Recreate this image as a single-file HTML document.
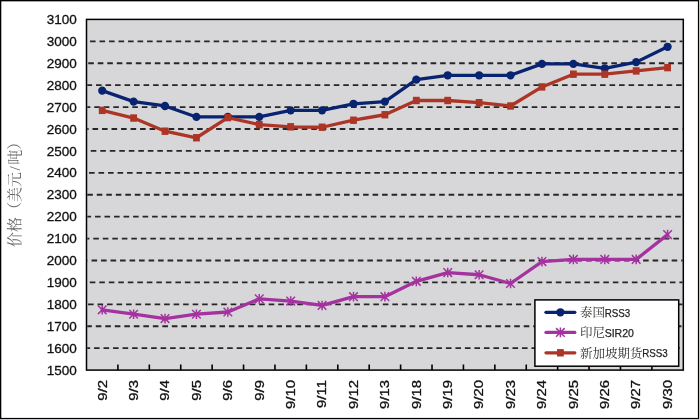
<!DOCTYPE html><html><head><meta charset="utf-8"><style>html,body{margin:0;padding:0;background:#fff;}svg{display:block;}text{font-family:"Liberation Sans","Noto Serif CJK SC",sans-serif;}</style></head><body>
<svg width="700" height="420" viewBox="0 0 700 420">
<rect x="0" y="0" width="700" height="420" fill="#fff"/>
<rect x="699" y="0" width="1" height="420" fill="#c9c9c6"/>
<rect x="0" y="419" width="700" height="1" fill="#c4c4ca"/>
<rect x="0" y="0" width="699" height="1.35" fill="#000"/>
<rect x="0" y="0" width="1.3" height="419" fill="#000"/>
<rect x="697.9" y="0" width="1.1" height="419" fill="#000"/>
<rect x="0" y="417.9" width="699" height="1.1" fill="#000"/>
<rect x="86.5" y="19.4" width="596.80" height="350.70" fill="#d7d7da"/>
<line x1="87.30" y1="41.32" x2="682.50" y2="41.32" stroke="#262626" stroke-width="1.8" stroke-dasharray="5.6 3.91" stroke-dashoffset="6.81"/>
<line x1="87.30" y1="63.24" x2="682.50" y2="63.24" stroke="#262626" stroke-width="1.8" stroke-dasharray="5.6 3.91" stroke-dashoffset="8.56"/>
<line x1="87.30" y1="85.16" x2="682.50" y2="85.16" stroke="#262626" stroke-width="1.8" stroke-dasharray="5.6 3.91" stroke-dashoffset="0.80"/>
<line x1="87.30" y1="107.08" x2="682.50" y2="107.08" stroke="#262626" stroke-width="1.8" stroke-dasharray="5.6 3.91" stroke-dashoffset="2.55"/>
<line x1="87.30" y1="128.99" x2="682.50" y2="128.99" stroke="#262626" stroke-width="1.8" stroke-dasharray="5.6 3.91" stroke-dashoffset="4.30"/>
<line x1="87.30" y1="150.91" x2="682.50" y2="150.91" stroke="#262626" stroke-width="1.8" stroke-dasharray="5.6 3.91" stroke-dashoffset="6.05"/>
<line x1="87.30" y1="172.83" x2="682.50" y2="172.83" stroke="#262626" stroke-width="1.8" stroke-dasharray="5.6 3.91" stroke-dashoffset="7.80"/>
<line x1="87.30" y1="194.75" x2="682.50" y2="194.75" stroke="#262626" stroke-width="1.8" stroke-dasharray="5.6 3.91" stroke-dashoffset="0.04"/>
<line x1="87.30" y1="216.67" x2="682.50" y2="216.67" stroke="#262626" stroke-width="1.8" stroke-dasharray="5.6 3.91" stroke-dashoffset="1.79"/>
<line x1="87.30" y1="238.59" x2="682.50" y2="238.59" stroke="#262626" stroke-width="1.8" stroke-dasharray="5.6 3.91" stroke-dashoffset="3.54"/>
<line x1="87.30" y1="260.51" x2="682.50" y2="260.51" stroke="#262626" stroke-width="1.8" stroke-dasharray="5.6 3.91" stroke-dashoffset="5.29"/>
<line x1="87.30" y1="282.43" x2="682.50" y2="282.43" stroke="#262626" stroke-width="1.8" stroke-dasharray="5.6 3.91" stroke-dashoffset="7.04"/>
<line x1="87.30" y1="304.34" x2="682.50" y2="304.34" stroke="#262626" stroke-width="1.8" stroke-dasharray="5.6 3.91" stroke-dashoffset="8.79"/>
<line x1="87.30" y1="326.26" x2="682.50" y2="326.26" stroke="#262626" stroke-width="1.8" stroke-dasharray="5.6 3.91" stroke-dashoffset="1.03"/>
<line x1="87.30" y1="348.18" x2="682.50" y2="348.18" stroke="#262626" stroke-width="1.8" stroke-dasharray="5.6 3.91" stroke-dashoffset="2.78"/>
<line x1="117.91" y1="370.10" x2="117.91" y2="364.50" stroke="#000" stroke-width="1.6"/>
<line x1="149.32" y1="370.10" x2="149.32" y2="364.50" stroke="#000" stroke-width="1.6"/>
<line x1="180.73" y1="370.10" x2="180.73" y2="364.50" stroke="#000" stroke-width="1.6"/>
<line x1="212.14" y1="370.10" x2="212.14" y2="364.50" stroke="#000" stroke-width="1.6"/>
<line x1="243.55" y1="370.10" x2="243.55" y2="364.50" stroke="#000" stroke-width="1.6"/>
<line x1="274.96" y1="370.10" x2="274.96" y2="364.50" stroke="#000" stroke-width="1.6"/>
<line x1="306.37" y1="370.10" x2="306.37" y2="364.50" stroke="#000" stroke-width="1.6"/>
<line x1="337.78" y1="370.10" x2="337.78" y2="364.50" stroke="#000" stroke-width="1.6"/>
<line x1="369.19" y1="370.10" x2="369.19" y2="364.50" stroke="#000" stroke-width="1.6"/>
<line x1="400.61" y1="370.10" x2="400.61" y2="364.50" stroke="#000" stroke-width="1.6"/>
<line x1="432.02" y1="370.10" x2="432.02" y2="364.50" stroke="#000" stroke-width="1.6"/>
<line x1="463.43" y1="370.10" x2="463.43" y2="364.50" stroke="#000" stroke-width="1.6"/>
<line x1="494.84" y1="370.10" x2="494.84" y2="364.50" stroke="#000" stroke-width="1.6"/>
<line x1="526.25" y1="370.10" x2="526.25" y2="364.50" stroke="#000" stroke-width="1.6"/>
<line x1="557.66" y1="370.10" x2="557.66" y2="364.50" stroke="#000" stroke-width="1.6"/>
<line x1="589.07" y1="370.10" x2="589.07" y2="364.50" stroke="#000" stroke-width="1.6"/>
<line x1="620.48" y1="370.10" x2="620.48" y2="364.50" stroke="#000" stroke-width="1.6"/>
<line x1="651.89" y1="370.10" x2="651.89" y2="364.50" stroke="#000" stroke-width="1.6"/>
<rect x="86.5" y="19.4" width="596.80" height="350.70" fill="none" stroke="#000" stroke-width="1.5"/>
<polyline points="102.21,90.64 133.62,101.60 165.03,105.98 196.44,116.94 227.85,116.94 259.26,116.94 290.67,110.36 322.08,110.36 353.49,103.79 384.90,101.60 416.31,79.68 447.72,75.29 479.13,75.29 510.54,75.29 541.95,63.90 573.36,63.90 604.77,68.28 636.18,62.14 667.59,46.80" fill="none" stroke="#082370" stroke-width="3.3" stroke-linejoin="round" stroke-linecap="round"/>
<ellipse cx="102.21" cy="90.64" rx="4.1" ry="4.15" fill="#082370"/>
<ellipse cx="133.62" cy="101.60" rx="4.1" ry="4.15" fill="#082370"/>
<ellipse cx="165.03" cy="105.98" rx="4.1" ry="4.15" fill="#082370"/>
<ellipse cx="196.44" cy="116.94" rx="4.1" ry="4.15" fill="#082370"/>
<ellipse cx="227.85" cy="116.94" rx="4.1" ry="4.15" fill="#082370"/>
<ellipse cx="259.26" cy="116.94" rx="4.1" ry="4.15" fill="#082370"/>
<ellipse cx="290.67" cy="110.36" rx="4.1" ry="4.15" fill="#082370"/>
<ellipse cx="322.08" cy="110.36" rx="4.1" ry="4.15" fill="#082370"/>
<ellipse cx="353.49" cy="103.79" rx="4.1" ry="4.15" fill="#082370"/>
<ellipse cx="384.90" cy="101.60" rx="4.1" ry="4.15" fill="#082370"/>
<ellipse cx="416.31" cy="79.68" rx="4.1" ry="4.15" fill="#082370"/>
<ellipse cx="447.72" cy="75.29" rx="4.1" ry="4.15" fill="#082370"/>
<ellipse cx="479.13" cy="75.29" rx="4.1" ry="4.15" fill="#082370"/>
<ellipse cx="510.54" cy="75.29" rx="4.1" ry="4.15" fill="#082370"/>
<ellipse cx="541.95" cy="63.90" rx="4.1" ry="4.15" fill="#082370"/>
<ellipse cx="573.36" cy="63.90" rx="4.1" ry="4.15" fill="#082370"/>
<ellipse cx="604.77" cy="68.28" rx="4.1" ry="4.15" fill="#082370"/>
<ellipse cx="636.18" cy="62.14" rx="4.1" ry="4.15" fill="#082370"/>
<ellipse cx="667.59" cy="46.80" rx="4.1" ry="4.15" fill="#082370"/>
<polyline points="102.21,309.82 133.62,314.21 165.03,318.59 196.44,314.21 227.85,312.02 259.26,298.86 290.67,301.06 322.08,305.44 353.49,296.67 384.90,296.67 416.31,281.33 447.72,272.56 479.13,274.75 510.54,283.52 541.95,261.60 573.36,259.41 604.77,259.41 636.18,259.41 667.59,234.64" fill="none" stroke="#a4339f" stroke-width="3.3" stroke-linejoin="round" stroke-linecap="round"/>
<path d="M97.91,305.52L106.51,314.12M97.91,314.12L106.51,305.52M102.21,305.02L102.21,314.62" stroke="#a4339f" stroke-width="1.5" fill="none"/>
<path d="M129.32,309.91L137.92,318.51M129.32,318.51L137.92,309.91M133.62,309.41L133.62,319.01" stroke="#a4339f" stroke-width="1.5" fill="none"/>
<path d="M160.73,314.29L169.33,322.89M160.73,322.89L169.33,314.29M165.03,313.79L165.03,323.39" stroke="#a4339f" stroke-width="1.5" fill="none"/>
<path d="M192.14,309.91L200.74,318.51M192.14,318.51L200.74,309.91M196.44,309.41L196.44,319.01" stroke="#a4339f" stroke-width="1.5" fill="none"/>
<path d="M223.55,307.72L232.15,316.32M223.55,316.32L232.15,307.72M227.85,307.22L227.85,316.82" stroke="#a4339f" stroke-width="1.5" fill="none"/>
<path d="M254.96,294.56L263.56,303.16M254.96,303.16L263.56,294.56M259.26,294.06L259.26,303.66" stroke="#a4339f" stroke-width="1.5" fill="none"/>
<path d="M286.37,296.76L294.97,305.36M286.37,305.36L294.97,296.76M290.67,296.26L290.67,305.86" stroke="#a4339f" stroke-width="1.5" fill="none"/>
<path d="M317.78,301.14L326.38,309.74M317.78,309.74L326.38,301.14M322.08,300.64L322.08,310.24" stroke="#a4339f" stroke-width="1.5" fill="none"/>
<path d="M349.19,292.37L357.79,300.97M349.19,300.97L357.79,292.37M353.49,291.87L353.49,301.47" stroke="#a4339f" stroke-width="1.5" fill="none"/>
<path d="M380.60,292.37L389.20,300.97M380.60,300.97L389.20,292.37M384.90,291.87L384.90,301.47" stroke="#a4339f" stroke-width="1.5" fill="none"/>
<path d="M412.01,277.03L420.61,285.63M412.01,285.63L420.61,277.03M416.31,276.53L416.31,286.13" stroke="#a4339f" stroke-width="1.5" fill="none"/>
<path d="M443.42,268.26L452.02,276.86M443.42,276.86L452.02,268.26M447.72,267.76L447.72,277.36" stroke="#a4339f" stroke-width="1.5" fill="none"/>
<path d="M474.83,270.45L483.43,279.05M474.83,279.05L483.43,270.45M479.13,269.95L479.13,279.55" stroke="#a4339f" stroke-width="1.5" fill="none"/>
<path d="M506.24,279.22L514.84,287.82M506.24,287.82L514.84,279.22M510.54,278.72L510.54,288.32" stroke="#a4339f" stroke-width="1.5" fill="none"/>
<path d="M537.65,257.30L546.25,265.90M537.65,265.90L546.25,257.30M541.95,256.80L541.95,266.40" stroke="#a4339f" stroke-width="1.5" fill="none"/>
<path d="M569.06,255.11L577.66,263.71M569.06,263.71L577.66,255.11M573.36,254.61L573.36,264.21" stroke="#a4339f" stroke-width="1.5" fill="none"/>
<path d="M600.47,255.11L609.07,263.71M600.47,263.71L609.07,255.11M604.77,254.61L604.77,264.21" stroke="#a4339f" stroke-width="1.5" fill="none"/>
<path d="M631.88,255.11L640.48,263.71M631.88,263.71L640.48,255.11M636.18,254.61L636.18,264.21" stroke="#a4339f" stroke-width="1.5" fill="none"/>
<path d="M663.29,230.34L671.89,238.94M663.29,238.94L671.89,230.34M667.59,229.84L667.59,239.44" stroke="#a4339f" stroke-width="1.5" fill="none"/>
<polyline points="102.21,110.36 133.62,118.03 165.03,131.19 196.44,137.76 227.85,117.60 259.26,124.61 290.67,126.80 322.08,127.24 353.49,120.23 384.90,114.75 416.31,100.50 447.72,100.50 479.13,102.69 510.54,105.98 541.95,86.91 573.36,74.20 604.77,74.20 636.18,70.91 667.59,67.62" fill="none" stroke="#ad3526" stroke-width="3.3" stroke-linejoin="round" stroke-linecap="round"/>
<rect x="98.81" y="106.66" width="6.8" height="7.4" fill="#ad3526"/>
<rect x="130.22" y="114.33" width="6.8" height="7.4" fill="#ad3526"/>
<rect x="161.63" y="127.49" width="6.8" height="7.4" fill="#ad3526"/>
<rect x="193.04" y="134.06" width="6.8" height="7.4" fill="#ad3526"/>
<rect x="224.45" y="113.90" width="6.8" height="7.4" fill="#ad3526"/>
<rect x="255.86" y="120.91" width="6.8" height="7.4" fill="#ad3526"/>
<rect x="287.27" y="123.10" width="6.8" height="7.4" fill="#ad3526"/>
<rect x="318.68" y="123.54" width="6.8" height="7.4" fill="#ad3526"/>
<rect x="350.09" y="116.53" width="6.8" height="7.4" fill="#ad3526"/>
<rect x="381.50" y="111.05" width="6.8" height="7.4" fill="#ad3526"/>
<rect x="412.91" y="96.80" width="6.8" height="7.4" fill="#ad3526"/>
<rect x="444.32" y="96.80" width="6.8" height="7.4" fill="#ad3526"/>
<rect x="475.73" y="98.99" width="6.8" height="7.4" fill="#ad3526"/>
<rect x="507.14" y="102.28" width="6.8" height="7.4" fill="#ad3526"/>
<rect x="538.55" y="83.21" width="6.8" height="7.4" fill="#ad3526"/>
<rect x="569.96" y="70.50" width="6.8" height="7.4" fill="#ad3526"/>
<rect x="601.37" y="70.50" width="6.8" height="7.4" fill="#ad3526"/>
<rect x="632.78" y="67.21" width="6.8" height="7.4" fill="#ad3526"/>
<rect x="664.19" y="63.92" width="6.8" height="7.4" fill="#ad3526"/>
<rect x="534.9" y="299.9" width="143.80" height="66.30" fill="#fff" stroke="#000" stroke-width="1.5"/>
<line x1="546" y1="312.3" x2="574.8" y2="312.3" stroke="#082370" stroke-width="3.3" stroke-linecap="round"/>
<ellipse cx="560.40" cy="312.30" rx="4.1" ry="4.15" fill="#082370"/>
<text x="580" y="317.3" font-size="12.5" fill="#2e2e2e" style="font-family:'Liberation Serif','Noto Serif CJK SC',serif">泰国</text>
<text x="604.7" y="316.7" font-size="11.2" fill="#222" stroke="#222" stroke-width="0.25" textLength="25.6" lengthAdjust="spacingAndGlyphs">RSS3</text>
<line x1="546" y1="332.4" x2="574.8" y2="332.4" stroke="#a4339f" stroke-width="3.3" stroke-linecap="round"/>
<path d="M556.10,328.10L564.70,336.70M556.10,336.70L564.70,328.10M560.40,327.60L560.40,337.20" stroke="#a4339f" stroke-width="1.5" fill="none"/>
<text x="580" y="337.4" font-size="12.5" fill="#2e2e2e" style="font-family:'Liberation Serif','Noto Serif CJK SC',serif">印尼</text>
<text x="604.7" y="336.8" font-size="11.2" fill="#222" stroke="#222" stroke-width="0.25" textLength="29.2" lengthAdjust="spacingAndGlyphs">SIR20</text>
<line x1="546" y1="352.8" x2="574.8" y2="352.8" stroke="#ad3526" stroke-width="3.3" stroke-linecap="round"/>
<rect x="557.00" y="349.10" width="6.8" height="7.4" fill="#ad3526"/>
<text x="580" y="357.8" font-size="12.5" fill="#2e2e2e" style="font-family:'Liberation Serif','Noto Serif CJK SC',serif">新加坡期货</text>
<text x="642.2" y="357.2" font-size="11.2" fill="#222" stroke="#222" stroke-width="0.25" textLength="25.6" lengthAdjust="spacingAndGlyphs">RSS3</text>
<text x="76.8" y="24.00" font-size="13.5" text-anchor="end" fill="#111" stroke="#111" stroke-width="0.3">3100</text>
<text x="76.8" y="45.92" font-size="13.5" text-anchor="end" fill="#111" stroke="#111" stroke-width="0.3">3000</text>
<text x="76.8" y="67.84" font-size="13.5" text-anchor="end" fill="#111" stroke="#111" stroke-width="0.3">2900</text>
<text x="76.8" y="89.76" font-size="13.5" text-anchor="end" fill="#111" stroke="#111" stroke-width="0.3">2800</text>
<text x="76.8" y="111.68" font-size="13.5" text-anchor="end" fill="#111" stroke="#111" stroke-width="0.3">2700</text>
<text x="76.8" y="133.59" font-size="13.5" text-anchor="end" fill="#111" stroke="#111" stroke-width="0.3">2600</text>
<text x="76.8" y="155.51" font-size="13.5" text-anchor="end" fill="#111" stroke="#111" stroke-width="0.3">2500</text>
<text x="76.8" y="177.43" font-size="13.5" text-anchor="end" fill="#111" stroke="#111" stroke-width="0.3">2400</text>
<text x="76.8" y="199.35" font-size="13.5" text-anchor="end" fill="#111" stroke="#111" stroke-width="0.3">2300</text>
<text x="76.8" y="221.27" font-size="13.5" text-anchor="end" fill="#111" stroke="#111" stroke-width="0.3">2200</text>
<text x="76.8" y="243.19" font-size="13.5" text-anchor="end" fill="#111" stroke="#111" stroke-width="0.3">2100</text>
<text x="76.8" y="265.11" font-size="13.5" text-anchor="end" fill="#111" stroke="#111" stroke-width="0.3">2000</text>
<text x="76.8" y="287.03" font-size="13.5" text-anchor="end" fill="#111" stroke="#111" stroke-width="0.3">1900</text>
<text x="76.8" y="308.94" font-size="13.5" text-anchor="end" fill="#111" stroke="#111" stroke-width="0.3">1800</text>
<text x="76.8" y="330.86" font-size="13.5" text-anchor="end" fill="#111" stroke="#111" stroke-width="0.3">1700</text>
<text x="76.8" y="352.78" font-size="13.5" text-anchor="end" fill="#111" stroke="#111" stroke-width="0.3">1600</text>
<text x="76.8" y="374.70" font-size="13.5" text-anchor="end" fill="#111" stroke="#111" stroke-width="0.3">1500</text>
<text transform="translate(106.51,380) rotate(-90) scale(1.245,1)" font-size="12" text-anchor="end" fill="#111" stroke="#111" stroke-width="0.3">9/2</text>
<text transform="translate(137.92,380) rotate(-90) scale(1.245,1)" font-size="12" text-anchor="end" fill="#111" stroke="#111" stroke-width="0.3">9/3</text>
<text transform="translate(169.33,380) rotate(-90) scale(1.245,1)" font-size="12" text-anchor="end" fill="#111" stroke="#111" stroke-width="0.3">9/4</text>
<text transform="translate(200.74,380) rotate(-90) scale(1.245,1)" font-size="12" text-anchor="end" fill="#111" stroke="#111" stroke-width="0.3">9/5</text>
<text transform="translate(232.15,380) rotate(-90) scale(1.245,1)" font-size="12" text-anchor="end" fill="#111" stroke="#111" stroke-width="0.3">9/6</text>
<text transform="translate(263.56,380) rotate(-90) scale(1.245,1)" font-size="12" text-anchor="end" fill="#111" stroke="#111" stroke-width="0.3">9/9</text>
<text transform="translate(294.97,380) rotate(-90) scale(1.245,1)" font-size="12" text-anchor="end" fill="#111" stroke="#111" stroke-width="0.3">9/10</text>
<text transform="translate(326.38,380) rotate(-90) scale(1.245,1)" font-size="12" text-anchor="end" fill="#111" stroke="#111" stroke-width="0.3">9/11</text>
<text transform="translate(357.79,380) rotate(-90) scale(1.245,1)" font-size="12" text-anchor="end" fill="#111" stroke="#111" stroke-width="0.3">9/12</text>
<text transform="translate(389.20,380) rotate(-90) scale(1.245,1)" font-size="12" text-anchor="end" fill="#111" stroke="#111" stroke-width="0.3">9/13</text>
<text transform="translate(420.61,380) rotate(-90) scale(1.245,1)" font-size="12" text-anchor="end" fill="#111" stroke="#111" stroke-width="0.3">9/18</text>
<text transform="translate(452.02,380) rotate(-90) scale(1.245,1)" font-size="12" text-anchor="end" fill="#111" stroke="#111" stroke-width="0.3">9/19</text>
<text transform="translate(483.43,380) rotate(-90) scale(1.245,1)" font-size="12" text-anchor="end" fill="#111" stroke="#111" stroke-width="0.3">9/20</text>
<text transform="translate(514.84,380) rotate(-90) scale(1.245,1)" font-size="12" text-anchor="end" fill="#111" stroke="#111" stroke-width="0.3">9/23</text>
<text transform="translate(546.25,380) rotate(-90) scale(1.245,1)" font-size="12" text-anchor="end" fill="#111" stroke="#111" stroke-width="0.3">9/24</text>
<text transform="translate(577.66,380) rotate(-90) scale(1.245,1)" font-size="12" text-anchor="end" fill="#111" stroke="#111" stroke-width="0.3">9/25</text>
<text transform="translate(609.07,380) rotate(-90) scale(1.245,1)" font-size="12" text-anchor="end" fill="#111" stroke="#111" stroke-width="0.3">9/26</text>
<text transform="translate(640.48,380) rotate(-90) scale(1.245,1)" font-size="12" text-anchor="end" fill="#111" stroke="#111" stroke-width="0.3">9/27</text>
<text transform="translate(671.89,380) rotate(-90) scale(1.245,1)" font-size="12" text-anchor="end" fill="#111" stroke="#111" stroke-width="0.3">9/30</text>
<text transform="translate(20.3,190.8) rotate(-90)" font-size="15" text-anchor="middle" fill="#666" style="font-family:'Liberation Serif','Noto Serif CJK SC',serif">价格（美元<tspan dx="1.6">/</tspan><tspan dx="1.6">吨）</tspan></text>
</svg></body></html>
